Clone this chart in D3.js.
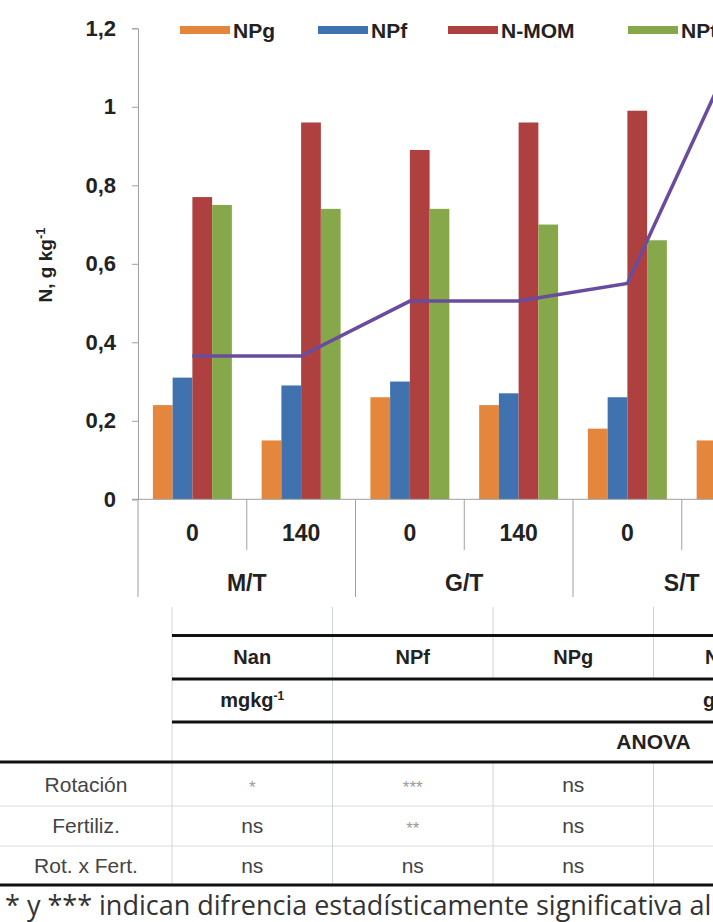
<!DOCTYPE html>
<html>
<head>
<meta charset="utf-8">
<script src="https://cdn.jsdelivr.net/npm/d3@7"></script>
<style>
  body { margin: 0; background: #fff; }
  svg { display: block; }
</style>
</head>
<body>
<svg id="chart" width="713" height="922"></svg>
<script>
// rotation / fertilization groups
var groups = ["M/T", "G/T", "S/T"];
var doses = ["0", "140"];
var categories = ["M/T 0", "M/T 140", "G/T 0", "G/T 140", "S/T 0", "S/T 140"];

var seriesNames = ["NPg", "NPf", "N-MOM", "NPt"];
var NPg   = [0.24, 0.15, 0.26, 0.24, 0.18, 0.15];
var NPf   = [0.31, 0.29, 0.30, 0.27, 0.26, 0.27];
var NMOM  = [0.77, 0.96, 0.89, 0.96, 0.99, 0.98];
var NPt   = [0.75, 0.74, 0.74, 0.70, 0.66, 0.70];
var Nan   = [0.365, 0.365, 0.505, 0.505, 0.55, 1.15];

var yTicks = [0, 0.2, 0.4, 0.6, 0.8, 1, 1.2];

// ANOVA table
var tableCols = ["Nan", "NPf", "NPg", "N-MOM"];
var tableRows = ["Rotación", "Fertiliz.", "Rot. x Fert."];
var tableVals = [
  ["*", "***", "ns"],
  ["ns", "**", "ns"],
  ["ns", "ns", "ns"]
];
var footnote = "* y *** indican difrencia estadísticamente significativa al";

var colors = ["#E4873C", "#3F72AF", "#AE4040", "#86A84B"];
var lineColor = "#6A4C9C";
var allSeries = [NPg, NPf, NMOM, NPt];

var svg = d3.select("#chart");
var bold = "'Liberation Sans', Arial, sans-serif";
var narrow = "'Liberation Sans Narrow', 'Arial Narrow', sans-serif";

var x = d3.scaleBand().domain(categories).range([138, 138 + 6 * 108.75]);
var bw = x.bandwidth();
var xs = d3.scaleBand().domain(seriesNames).range([bw * 0.137, bw * 0.863]);
var y = d3.scaleLinear().domain([0, 1.2]).range([499.3, 28.3]);

// bars
var barG = svg.append("g");
seriesNames.forEach(function(s, si){
  barG.selectAll(".b" + si)
    .data(allSeries[si])
    .enter().append("rect")
      .attr("x", function(d, i){ return x(categories[i]) + xs(s); })
      .attr("y", function(d){ return y(d); })
      .attr("width", xs.bandwidth())
      .attr("height", function(d){ return y(0) - y(d); })
      .style("fill", colors[si]);
});

// y axis
var yAxis = svg.append("g")
  .attr("transform", "translate(138,0)")
  .call(d3.axisLeft(y).tickValues(yTicks).tickSize(6).tickPadding(16)
    .tickFormat(function(d){ return String(+d.toFixed(1)).replace(".", ","); }));
yAxis.selectAll("path, line").style("stroke", "#a0a0a0");
yAxis.selectAll("text")
  .style("font-family", bold).style("font-weight", "bold")
  .style("font-size", "22px").style("fill", "#222");

// category axis
var catG = svg.append("g");
catG.append("line")
  .attr("x1", 132).attr("x2", 713)
  .attr("y1", y(0)).attr("y2", y(0))
  .style("stroke", "#a0a0a0");
d3.range(categories.length + 1).forEach(function(i){
  var xx = 138 + i * bw;
  catG.append("line")
    .attr("x1", xx).attr("x2", xx)
    .attr("y1", y(0)).attr("y2", i % 2 == 0 ? 597 : 550)
    .style("stroke", "#a0a0a0");
});
catG.selectAll(".dose")
  .data(categories)
  .enter().append("text")
    .attr("x", function(d){ return x(d) + bw / 2; })
    .attr("y", 541)
    .attr("text-anchor", "middle")
    .style("font-family", bold).style("font-weight", "bold")
    .style("font-size", "23px").style("fill", "#222")
    .text(function(d, i){ return doses[i % 2]; });
catG.selectAll(".grp")
  .data(groups)
  .enter().append("text")
    .attr("x", function(d, i){ return x(categories[i * 2]) + bw; })
    .attr("y", 591)
    .attr("text-anchor", "middle")
    .style("font-family", bold).style("font-weight", "bold")
    .style("font-size", "23px").style("fill", "#222")
    .text(function(d){ return d; });

// Nan line
var line = d3.line()
  .x(function(d, i){ return x(categories[i]) + bw / 2; })
  .y(function(d){ return y(d); });
svg.append("path")
  .datum(Nan)
  .attr("d", line)
  .style("fill", "none")
  .style("stroke", lineColor)
  .style("stroke-width", 3.5);

// y title
var yt = svg.append("text")
  .attr("transform", "translate(52,265) rotate(-90)")
  .attr("text-anchor", "middle")
  .style("font-family", bold).style("font-weight", "bold")
  .style("font-size", "19px").style("fill", "#222");
yt.append("tspan").text("N, g kg");
yt.append("tspan").attr("dy", -7).style("font-size", "13px").text("-1");

// legend
var legX = [180, 318, 448, 628];
var leg = svg.append("g");
seriesNames.forEach(function(s, i){
  leg.append("rect")
    .attr("x", legX[i]).attr("y", 26)
    .attr("width", 50).attr("height", 8)
    .style("fill", colors[i]);
  leg.append("text")
    .attr("x", legX[i] + 53).attr("y", 38)
    .style("font-family", bold).style("font-weight", "bold")
    .style("font-size", "21px").style("fill", "#222")
    .text(s);
});

// table
var tg = svg.append("g");
var c0 = 172, cw = 160.5;
function hline(y1, xa, thick){
  tg.append("line")
    .attr("x1", xa).attr("x2", 713).attr("y1", y1).attr("y2", y1)
    .style("stroke", thick ? "#111" : "#d8dbe2")
    .style("stroke-width", thick ? 3 : 1);
}
function vline(xx, ya, yb){
  tg.append("line")
    .attr("x1", xx).attr("x2", xx).attr("y1", ya).attr("y2", yb)
    .style("stroke", "#d0d4dc");
}
vline(c0, 607, 885);
vline(c0 + cw, 607, 885);
vline(c0 + 2 * cw, 607, 679); vline(c0 + 2 * cw, 762, 885);
vline(c0 + 3 * cw, 607, 679); vline(c0 + 3 * cw, 762, 885);
hline(635.5, c0, true);
hline(679, c0, true);
hline(722, c0, true);
hline(762, 0, true);
hline(806, 0, false);
hline(846, 0, false);
hline(885, 0, true);

tableCols.forEach(function(c, i){
  tg.append("text")
    .attr("x", i < 3 ? c0 + cw * (i + 0.5) : 705)
    .attr("y", 664)
    .attr("text-anchor", i < 3 ? "middle" : "start")
    .style("font-family", narrow).style("font-weight", "bold")
    .style("font-size", "20px").style("fill", "#222")
    .text(c);
});
var u1 = tg.append("text")
  .attr("x", c0 + cw / 2).attr("y", 707)
  .attr("text-anchor", "middle")
  .style("font-family", narrow).style("font-weight", "bold")
  .style("font-size", "20px").style("fill", "#222");
u1.append("tspan").text("mgkg");
u1.append("tspan").attr("dy", -7).style("font-size", "12px").text("-1");
tg.append("text")
  .attr("x", 703).attr("y", 707)
  .style("font-family", narrow).style("font-weight", "bold")
  .style("font-size", "20px").style("fill", "#222")
  .text("g kg-1");
tg.append("text")
  .attr("x", c0 + cw * 3).attr("y", 749)
  .attr("text-anchor", "middle")
  .style("font-family", narrow).style("font-weight", "bold")
  .style("font-size", "21px").style("fill", "#222")
  .text("ANOVA");

var rowY = [792, 833, 873];
tableRows.forEach(function(r, ri){
  tg.append("text")
    .attr("x", 86).attr("y", rowY[ri])
    .attr("text-anchor", "middle")
    .style("font-family", narrow)
    .style("font-size", "21px").style("fill", "#444")
    .text(r);
  tableVals[ri].forEach(function(v, ci){
    var star = v.indexOf("*") >= 0;
    tg.append("text")
      .attr("x", c0 + cw * (ci + 0.5)).attr("y", rowY[ri] + (star ? 1 : 0))
      .attr("text-anchor", "middle")
      .style("font-family", narrow)
      .style("font-size", star ? "17px" : "21px")
      .style("fill", star ? "#999" : "#444")
      .text(v);
  });
});

svg.append("text")
  .attr("x", 5).attr("y", 915)
  .style("font-family", "'Open Sans', sans-serif")
  .style("font-size", "27px").style("fill", "#333")
  .text(footnote);
</script>
</body>
</html>
